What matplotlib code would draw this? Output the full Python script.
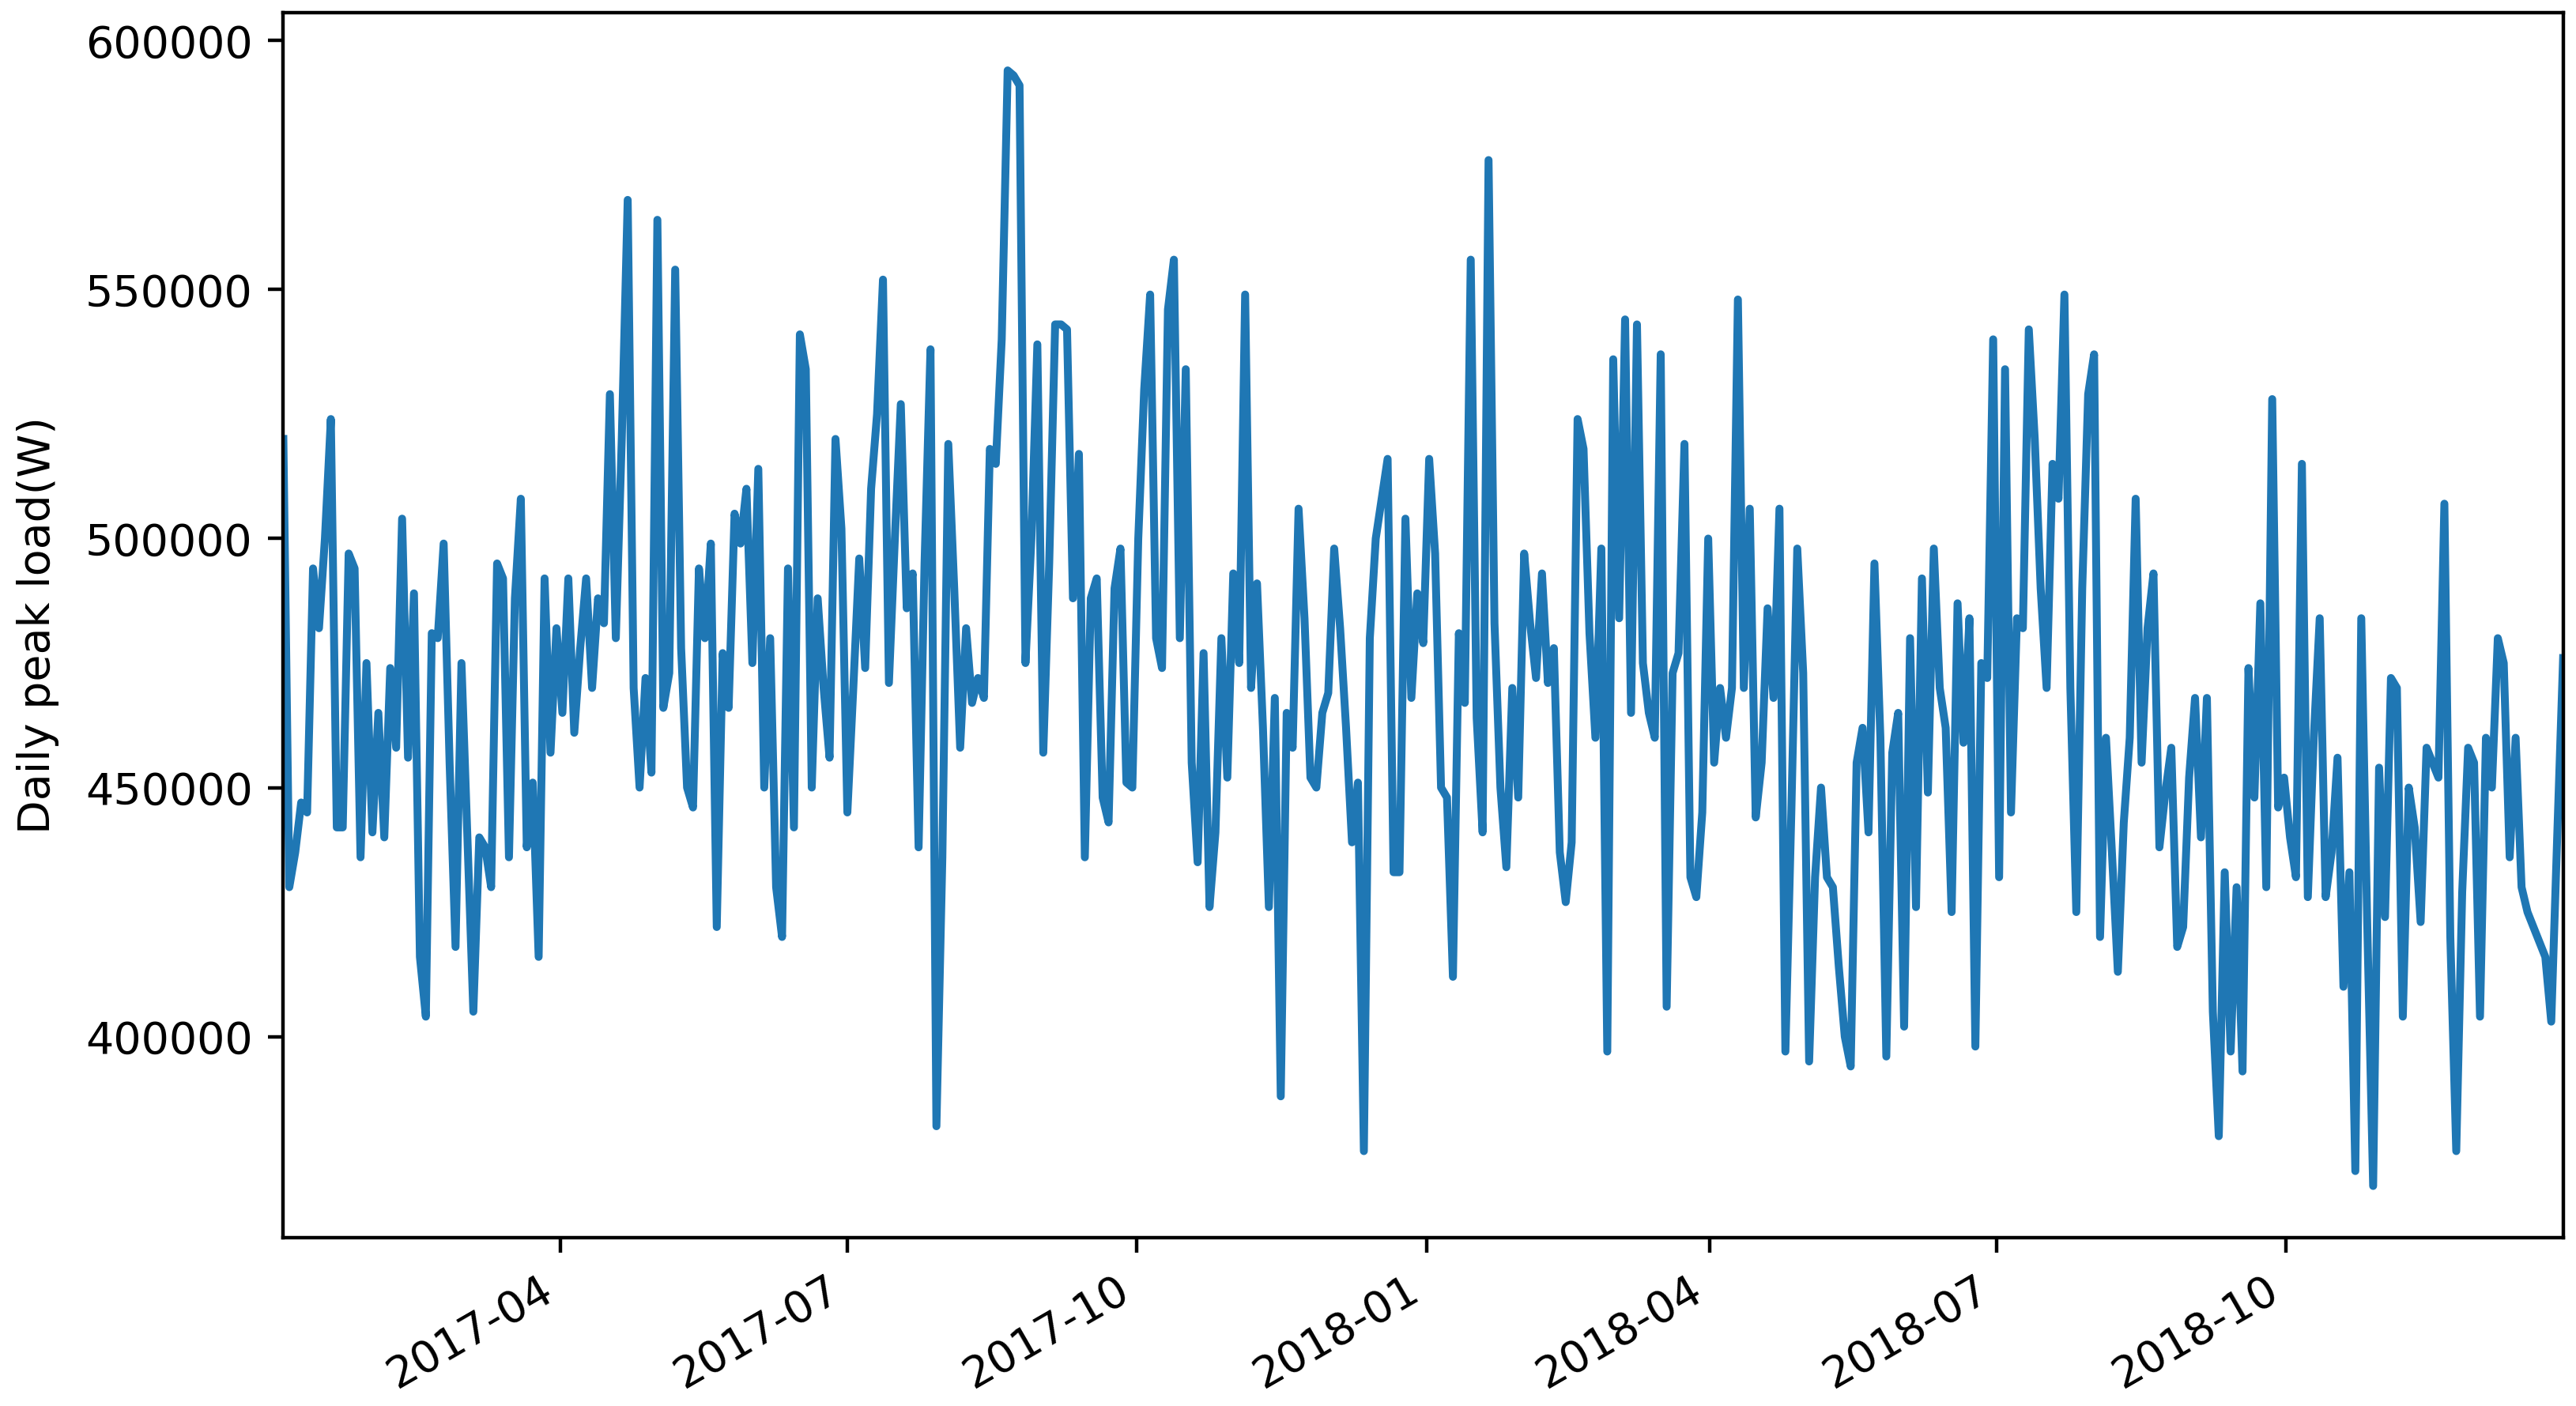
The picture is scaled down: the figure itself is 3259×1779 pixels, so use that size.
import numpy as np
import pandas as pd
import matplotlib
matplotlib.use('Agg')
import matplotlib.pyplot as plt
import matplotlib.dates as mdates

# daily peak load (thousands of W), roughly evenly spaced in time
peak_k = [520, 430, 437, 447, 445, 494, 482, 500, 524, 442, 442, 497, 494, 436, 475, 441, 465, 440, 474, 458,
          504, 456, 489, 416, 404, 481, 480, 499, 455, 418, 475, 440, 405, 440, 438, 430, 495, 492, 436, 488,
          508, 438, 451, 416, 492, 457, 482, 465, 492, 461, 478, 492, 470, 488, 483, 529, 480, 520, 568, 470,
          450, 472, 453, 564, 466, 473, 554, 478, 450, 446, 494, 480, 499, 422, 477, 466, 505, 499, 510, 475,
          514, 450, 480, 430, 420, 494, 442, 541, 534, 450, 488, 470, 456, 520, 502, 445, 470, 496, 474, 510,
          525, 552, 471, 500, 527, 486, 493, 438, 495, 538, 382, 436, 519, 490, 458, 482, 467, 472, 468, 518,
          515, 540, 594, 593, 591, 475, 500, 539, 457, 495, 543, 543, 542, 488, 517, 436, 488, 492, 448, 443,
          490, 498, 451, 450, 500, 530, 549, 480, 474, 546, 556, 480, 534, 455, 435, 477, 426, 441, 480, 452,
          493, 475, 549, 470, 491, 462, 426, 468, 388, 465, 458, 506, 484, 452, 450, 465, 469, 498, 482, 462,
          439, 451, 377, 480, 500, 508, 516, 433, 433, 504, 468, 489, 479, 516, 497, 450, 448, 412, 481, 467,
          556, 464, 441, 576, 483, 450, 434, 470, 448, 497, 483, 472, 493, 471, 478, 437, 427, 439, 524, 518,
          481, 460, 498, 397, 536, 484, 544, 465, 543, 475, 465, 460, 537, 406, 473, 477, 519, 432, 428, 445,
          500, 455, 470, 460, 470, 548, 470, 506, 444, 455, 486, 468, 506, 397, 445, 498, 473, 395, 432, 450,
          432, 430, 414, 400, 394, 455, 462, 441, 495, 460, 396, 457, 465, 402, 480, 426, 492, 449, 498, 470,
          462, 425, 487, 459, 484, 398, 475, 472, 540, 432, 534, 445, 484, 482, 542, 520, 490, 470, 515, 508,
          549, 470, 425, 490, 529, 537, 420, 460, 437, 413, 443, 460, 508, 455, 482, 493, 438, 449, 458, 418,
          422, 452, 468, 440, 468, 405, 380, 433, 397, 430, 393, 474, 448, 487, 430, 528, 446, 452, 440, 432,
          515, 428, 460, 484, 428, 437, 456, 410, 433, 373, 484, 423, 370, 454, 424, 472, 470, 404, 450, 442,
          423, 458, 455, 452, 507, 420, 377, 429, 458, 455, 404, 460, 450, 480, 475, 436, 460, 430, 425, 422,
          419, 416, 403, 440, 476]
start_date = '2017-01-03'
end_date = '2018-12-28'

peak = np.array(peak_k) * 1000
dates = pd.date_range(start_date, end_date, periods=len(peak))

fig = plt.figure(figsize=(8.1475, 4.4475), dpi=400)
ax = fig.add_axes([0.110, 0.120, 0.885, 0.871])
ax.plot(dates, peak, color='#1f77b4', linewidth=1.8)
ax.set_xlim(dates[0], dates[-1])
ax.set_ylim(359700, 605600)
ax.set_yticks([400000, 450000, 500000, 550000, 600000])
ax.set_ylabel('Daily peak load(W)', labelpad=6)
ax.xaxis.set_major_locator(mdates.MonthLocator(bymonth=[1, 4, 7, 10]))
ax.xaxis.set_major_formatter(mdates.DateFormatter('%Y-%m'))
for lab in ax.get_xticklabels():
    lab.set_rotation(30)
    lab.set_ha('right')

fig.savefig('out.png', dpi=400)
